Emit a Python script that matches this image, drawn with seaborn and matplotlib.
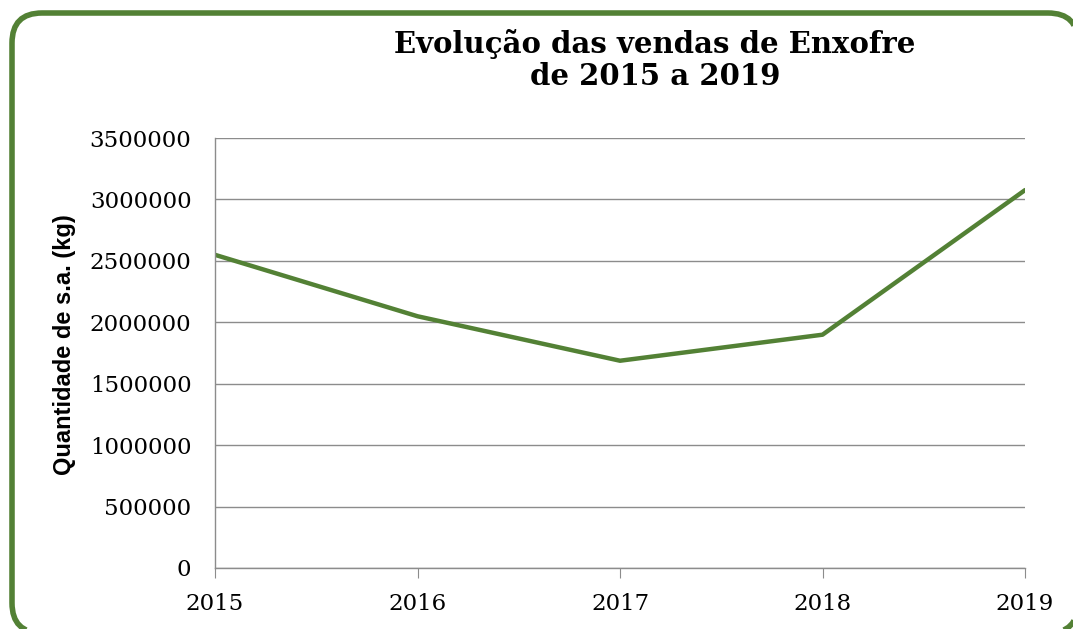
import matplotlib
matplotlib.use("Agg")
import matplotlib.pyplot as plt
import seaborn as sns
import pandas as pd
from matplotlib.patches import FancyBboxPatch, Polygon
from matplotlib.transforms import IdentityTransform

# dados
anos = [2015, 2016, 2017, 2018, 2019]
vendas = [2549000, 2049000, 1687000, 1899000, 3076000]
y_ticks = [0, 500000, 1000000, 1500000, 2000000, 2500000, 3000000, 3500000]

df = pd.DataFrame({"ano": anos, "vendas": vendas})

sns.set_style("white")
verde = "#538135"
cinza = "#8c8c8c"
serif = "DejaVu Serif"

fig = plt.figure(figsize=(10.73, 6.29), dpi=100)
ax = fig.add_axes([0.2004, 0.0970, 0.7549, 0.6836])

# moldura arredondada em pixels (direita e base saem da imagem)
caixa = FancyBboxPatch((12, -4), 1066, 620, boxstyle="round,pad=0,rounding_size=30")
pontos = caixa.get_path().to_polygons(closed_only=False)[0]
moldura = Polygon(pontos, closed=True, transform=IdentityTransform(), fill=False,
                  edgecolor=verde, linewidth=4)
fig.patches.append(moldura)

sns.lineplot(data=df, x="ano", y="vendas", ax=ax, color=verde, linewidth=3.2)

ax.set_xlim(2015, 2019)
ax.set_ylim(0, 3500000)
ax.set_xticks(anos)
ax.set_yticks(y_ticks)
ax.set_xticklabels([str(a) for a in anos], fontfamily=serif, fontsize=16.5, color="black")
ax.set_yticklabels([str(v) for v in y_ticks], fontfamily=serif, fontsize=16.5, color="black")
ax.yaxis.grid(True, color=cinza, linewidth=1)
ax.xaxis.grid(False)
ax.set_axisbelow(True)

for lado in ["top", "right"]:
    ax.spines[lado].set_visible(False)
for lado in ["left", "bottom"]:
    ax.spines[lado].set_color(cinza)
    ax.spines[lado].set_linewidth(1)

ax.tick_params(axis="x", direction="out", length=7, color=cinza, pad=11, bottom=True)
ax.tick_params(axis="y", length=0, pad=17)

ax.set_xlabel("")
ax.set_ylabel("Quantidade de s.a. (kg)", fontfamily="Liberation Sans",
              fontweight="bold", fontsize=17, color="black")
ax.yaxis.set_label_coords((76 - 215) / 810, 0.52)

fig.text(655 / 1073, 1 - 60 / 629, "Evolução das vendas de Enxofre\nde 2015 a 2019",
         ha="center", va="center", fontfamily=serif, color="black",
         fontweight="bold", fontsize=21, linespacing=1.15)

fig.savefig("out.png", dpi=100)
